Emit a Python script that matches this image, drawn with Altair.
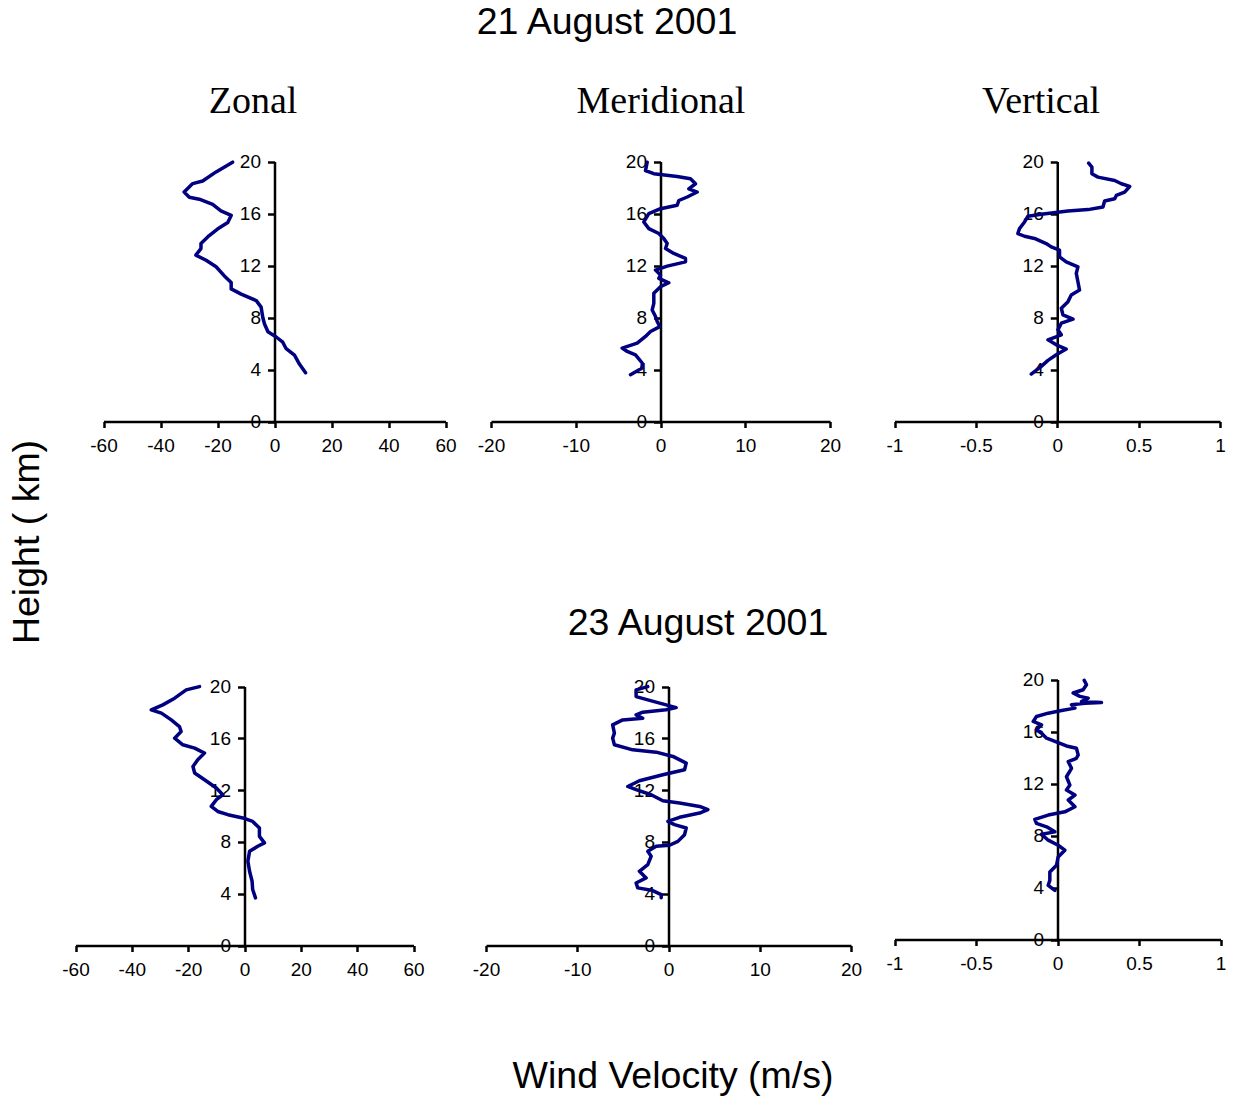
import altair as alt
import pandas as pd

# ---------------- data ----------------
# 21 August 2001
zonal_21_h = [19.95, 19.2, 18.5, 18.3, 17.65, 17.25, 17.1, 16.7, 16.2, 15.85, 15.3, 14.8, 14.3,
              13.7, 13.3, 12.8, 12.4, 11.9, 11.2, 10.7, 10.2, 9.8, 9.3, 8.8, 8.0, 7.5, 6.9, 6.5,
              6.1, 5.6, 5.1, 4.4, 3.75]
zonal_21_v = [-14.7, -20.5, -25.2, -28.7, -31.7, -29.9, -26.4, -21.7, -18.8, -15.2, -16.4, -20.0,
              -22.9, -25.8, -25.8, -27.6, -24.0, -20.5, -17.6, -15.2, -15.2, -11.7, -6.4, -4.7,
              -4.1, -3.5, -2.3, 0.6, 2.9, 4.1, 7.0, 8.8, 10.9]

merid_21_h = [19.95, 19.3, 19.06, 18.85, 18.67, 18.29, 17.9, 17.65, 17.27, 17.0, 16.63, 16.37,
              15.99, 15.35, 14.84, 14.46, 14.08, 13.69, 13.31, 12.93, 12.54, 12.28, 11.95, 11.65,
              11.26, 11.01, 10.67, 10.37, 9.86, 9.09, 8.58, 8.07, 7.69, 7.3, 6.92, 6.54, 6.03,
              5.65, 5.39, 5.13, 4.5, 4.11, 3.6]
merid_21_v = [-1.57, -1.77, -0.79, 1.97, 3.54, 4.13, 3.34, 4.33, 3.15, 2.16, 1.97, 0.0, -1.38,
              -1.97, -1.38, -0.2, 0.39, 0.79, 0.59, 1.57, 2.95, 2.95, 0.79, -0.59, 0.0, -0.2,
              0.98, 0.0, -0.79, -0.79, -0.98, -0.59, -0.39, -0.08, -1.18, -1.77, -2.75, -4.52,
              -3.93, -2.95, -2.16, -2.16, -3.54]

vert_21_h = [19.87, 19.57, 19.06, 18.8, 18.54, 18.29, 18.08, 17.65, 17.39, 17.14, 16.96, 16.5,
             16.3, 16.19, 15.94, 15.79, 15.35, 14.84, 14.46, 14.25, 14.08, 13.69, 13.43, 13.18,
             12.67, 12.28, 11.9, 11.39, 10.75, 10.11, 9.73, 9.22, 8.71, 8.2, 7.87, 7.56, 7.05,
             6.67, 6.28, 5.9, 5.57, 5.13, 4.7, 4.24, 3.65]
vert_21_v = [0.193, 0.213, 0.213, 0.25, 0.353, 0.394, 0.445, 0.414, 0.363, 0.353, 0.291, 0.281,
             0.189, 0.066, -0.098, -0.18, -0.201, -0.232, -0.242, -0.201, -0.14, -0.068, -0.037,
             0.014, 0.014, 0.055, 0.127, 0.117, 0.127, 0.137, 0.086, 0.066, 0.025, 0.035, 0.097,
             0.025, 0.004, 0.025, -0.057, -0.006, 0.055, -0.006, -0.057, -0.098, -0.16]

# 23 August 2001
zonal_23_h = [19.99, 19.74, 19.1, 18.58, 18.2, 17.94, 17.42, 16.91, 16.52, 16.01, 15.5, 15.24,
              14.86, 14.34, 13.82, 13.32, 12.8, 12.16, 11.64, 11.26, 10.74, 10.35, 10.1, 9.85,
              9.58, 9.07, 8.43, 7.92, 7.66, 7.27, 6.5, 5.73, 4.96, 4.32, 3.68]
zonal_23_v = [-15.96, -20.7, -24.8, -29.0, -33.1, -29.5, -26.0, -23.1, -22.5, -24.8, -21.9,
              -17.7, -14.2, -16.6, -18.3, -17.7, -14.2, -10.0, -7.7, -10.0, -11.8, -9.5, -5.9,
              -0.6, 2.9, 5.3, 5.3, 7.1, 4.7, 1.8, 1.2, 1.8, 2.7, 2.9, 3.9]

merid_23_h = [19.99, 19.74, 19.22, 18.97, 18.58, 18.37, 18.2, 18.02, 17.81, 17.55, 17.42, 17.04,
              16.4, 16.01, 15.5, 15.11, 14.93, 14.6, 14.08, 13.57, 13.18, 12.72, 12.28, 12.03,
              11.64, 11.18, 11.0, 10.74, 10.49, 10.23, 9.9, 9.58, 9.33, 9.07, 8.56, 8.04, 7.74,
              7.66, 7.27, 6.89, 6.25, 5.73, 5.22, 4.83, 4.45, 4.24, 3.93, 3.68]
merid_23_v = [-2.27, -3.55, -3.55, -2.27, -0.26, 0.84, -0.26, -2.82, -3.55, -2.82, -5.02, -6.12,
              -5.93, -6.12, -5.93, -3.92, -1.35, 0.48, 1.94, 1.76, -0.62, -3.19, -4.47, -3.55,
              -1.9, -0.62, 1.21, 3.41, 4.32, 3.41, 1.21, -0.07, 0.66, 1.94, 1.76, 1.03, 0.11,
              -1.35, -2.27, -1.9, -2.27, -3.19, -2.45, -3.55, -3.37, -1.73, -0.8, -0.8]

vert_23_h = [19.93, 19.6, 19.21, 18.96, 18.7, 18.57, 18.31, 18.23, 18.18, 18.06, 17.8, 17.62,
             17.41, 17.15, 16.77, 16.51, 16.13, 15.87, 15.49, 15.15, 14.89, 14.71, 14.2, 13.94,
             13.68, 13.17, 12.52, 11.88, 11.5, 11.11, 10.73, 10.21, 9.82, 9.57, 9.24, 8.93, 8.67,
             8.28, 8.1, 7.64, 7.25, 6.87, 6.35, 5.71, 5.19, 4.55, 4.17, 3.78]
vert_23_v = [0.164, 0.178, 0.157, 0.096, 0.137, 0.188, 0.147, 0.27, 0.168, 0.086, 0.107, 0.025,
             -0.057, -0.129, -0.149, -0.098, -0.129, -0.098, -0.067, 0.004, 0.055, 0.116, 0.127,
             0.116, 0.066, 0.086, 0.055, 0.076, 0.055, 0.107, 0.066, 0.107, 0.045, -0.057, -0.139,
             -0.129, -0.067, -0.016, -0.098, -0.057, 0.004, 0.045, 0.004, -0.006, -0.047, -0.047,
             -0.057, -0.016]

height_ticks = [0, 4, 8, 12, 16, 20]
zonal_ticks = [-60, -40, -20, 0, 20, 40, 60]
merid_ticks = [-20, -10, 0, 10, 20]
vert_ticks = [-1, -0.5, 0, 0.5, 1]

texts = ["21 August 2001", "23 August 2001", "Zonal", "Meridional", "Vertical",
         "Height ( km)", "Wind Velocity (m/s)"]

# ---------------- layout ----------------
W, H = 1237, 1097
NAVY = "#000080"
SANS = "Liberation Sans"
SERIF = "Liberation Serif"

LABEL_EXPR = ("datum.value < 0 ? '-' + format(-datum.value, '~g') "
              ": format(datum.value, '~g')")


def panel(h, v, ticks, xrange, y0, y20):
    df = pd.DataFrame({"h": h, "v": v})
    lim = max(abs(t) for t in ticks)
    x_zero = (xrange[0] + xrange[1]) / 2.0
    common = dict(domainColor="black", domainWidth=2.5, tickColor="black", tickWidth=2.5,
                  labelFont=SANS, labelFontSize=19, labelColor="black", grid=False,
                  labelFlush=False, labelOverlap=False, title=None)
    xaxis = alt.Axis(orient="bottom", offset=y0 - H, values=ticks, tickSize=6,
                     labelPadding=9, labelExpr=LABEL_EXPR, **common)
    yaxis = alt.Axis(orient="left", offset=-x_zero, values=height_ticks, tickSize=7,
                     labelPadding=7, **common)
    return alt.Chart(df).mark_line(color=NAVY, strokeWidth=3.5, strokeJoin="round",
                                   strokeCap="round").encode(
        x=alt.X("v:Q", scale=alt.Scale(domain=[-lim, lim], range=list(xrange), nice=False,
                                       zero=False), axis=xaxis),
        y=alt.Y("h:Q", scale=alt.Scale(domain=[0, 20], range=[y0, y20], nice=False,
                                       zero=False), axis=yaxis),
        order=alt.Order("h:Q"),
    )


def label(text, x, y, size, font, angle=0):
    df = pd.DataFrame({"t": [text]})
    return alt.Chart(df).mark_text(font=font, fontSize=size, color="black", align="center",
                                   baseline="middle", angle=angle).encode(
        x=alt.value(x), y=alt.value(y), text="t:N")


layers = [
    panel(zonal_21_h, zonal_21_v, zonal_ticks, (103.5, 445.5), 421.5, 161.5),
    panel(merid_21_h, merid_21_v, merid_ticks, (491, 830), 421.5, 161.5),
    panel(vert_21_h, vert_21_v, vert_ticks, (894.5, 1220), 421.5, 161.5),
    panel(zonal_23_h, zonal_23_v, zonal_ticks, (75.5, 413.5), 945.5, 686.5),
    panel(merid_23_h, merid_23_v, merid_ticks, (486, 851), 945.5, 686.5),
    panel(vert_23_h, vert_23_v, vert_ticks, (894.5, 1220.5), 939.5, 679.5),
    label(texts[0], 607, 23, 37.5, SANS),
    label(texts[1], 698, 624, 37.5, SANS),
    label(texts[2], 253, 102, 38, SERIF),
    label(texts[3], 661, 102, 38, SERIF),
    label(texts[4], 1041, 102, 38, SERIF),
    label(texts[5], 28, 542, 37.5, SANS, angle=270),
    label(texts[6], 673, 1077, 37.5, SANS),
]

chart = alt.layer(*layers).resolve_scale(x="independent", y="independent").properties(
    width=W, height=H, padding=0, autosize=alt.AutoSizeParams(type="none"),
    background="white",
).configure_view(stroke=None)

chart.save("out.html", embed_options={"renderer": "svg", "actions": False})
